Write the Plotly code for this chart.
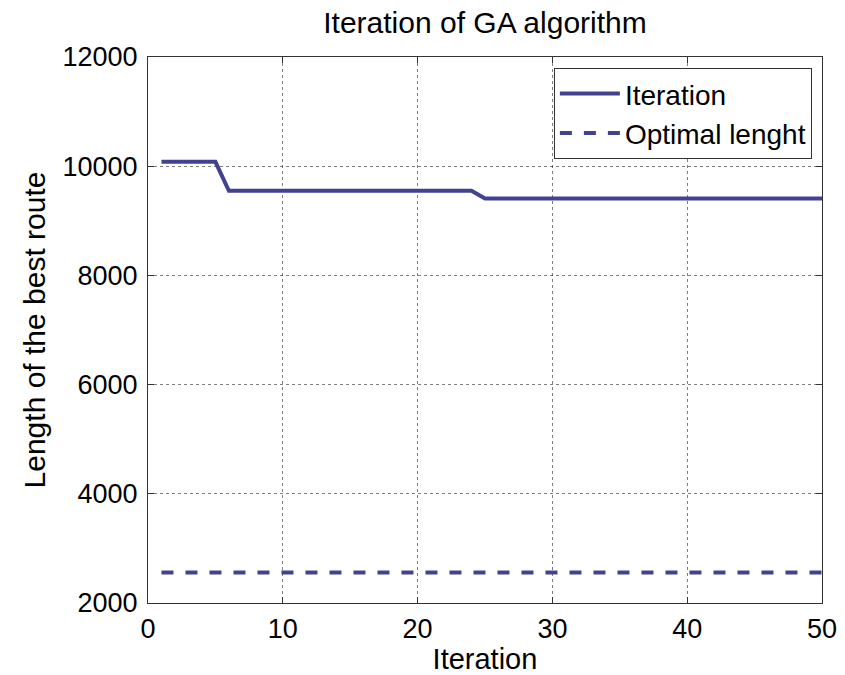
import plotly.graph_objects as go

iterations = list(range(1, 51))
best_length = [10080] * 5 + [9550] * 19 + [9410] * 26
optimal_length = [2560] * 50
x_ticks = [0, 10, 20, 30, 40, 50]
y_ticks = [2000, 4000, 6000, 8000, 10000, 12000]

color = "rgb(66,66,145)"
font = "Liberation Sans, Arial, Helvetica, sans-serif"

fig = go.Figure()
fig.add_trace(go.Scatter(x=iterations, y=best_length, mode="lines", name="Iteration",
                         line=dict(color=color, width=4)))
fig.add_trace(go.Scatter(x=iterations, y=optimal_length, mode="lines", name="Optimal lenght",
                         line=dict(color=color, width=4, dash="dash")))

axis_common = dict(showline=True, linecolor="#333", linewidth=1, mirror="ticks",
                   ticks="inside", ticklen=6, tickcolor="#333", automargin=False,
                   showgrid=True, gridcolor="rgba(0,0,0,0.5)", griddash="dot", gridwidth=1,
                   zeroline=False, tickfont=dict(family=font, size=27, color="black"))

fig.update_layout(
    width=845, height=675,
    paper_bgcolor="white", plot_bgcolor="white",
    margin=dict(l=148, r=23, t=57, b=72),
    title=dict(text="Iteration of GA algorithm", x=0.5, xanchor="center", xref="paper",
               y=0.967, yanchor="middle", font=dict(family=font, size=30, color="black")),
    xaxis=dict(range=[0, 50], tickvals=x_ticks, tickformat="d", ticklabelstandoff=2,
               title=dict(text="Iteration", font=dict(family=font, size=29, color="black"), standoff=3),
               **axis_common),
    yaxis=dict(range=[2000, 12000], tickvals=y_ticks, tickformat="d", ticklabelstandoff=4,
               title=dict(text="Length of the best route", font=dict(family=font, size=30, color="black"), standoff=8),
               **axis_common),
    legend=dict(x=0.985, y=0.98, xanchor="right", yanchor="top",
                bgcolor="white", bordercolor="#333", borderwidth=1,
                font=dict(family=font, size=28, color="black"), tracegroupgap=0,
                itemwidth=60),
    showlegend=True,
)

fig.write_html("out.html")
